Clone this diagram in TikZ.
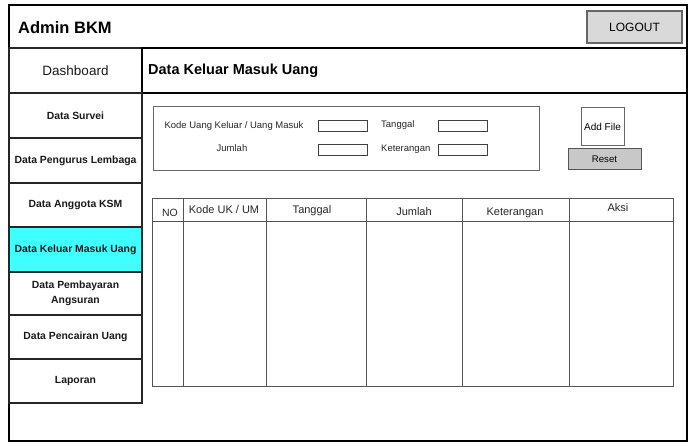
\documentclass[tikz,border=0pt]{standalone}
\usepackage{fontspec}
\setmainfont{Liberation Sans}
\definecolor{cyanfill}{HTML}{40FFFF}
\definecolor{logoutfill}{HTML}{D9D9D9}
\definecolor{resetfill}{HTML}{C8C8C8}
\definecolor{edgegray}{HTML}{666666}
\definecolor{tablegray}{HTML}{555555}
\begin{document}
\begin{tikzpicture}[x=1pt,y=-1pt,
  box/.style={draw, rectangle, inner sep=0pt, outer sep=0pt},
  frame/.style={box, line width=1.8pt, draw=black},
  side/.style={box, line width=1.8pt, draw=black!85, minimum width=133pt, align=center,
     font=\fontsize{10.4}{15}\selectfont\bfseries, text=black!90},
  field/.style={box, draw=black!75, line width=0.8pt, minimum width=49pt, minimum height=11pt},
  sk/.style={inner sep=0pt, font=\fontsize{9.5}{11}\selectfont, text=black!85},
  th/.style={inner sep=0pt, font=\fontsize{11}{13}\selectfont, text=black!85},
  cell/.style={box, draw=tablegray, line width=1pt},
]
\useasboundingbox (0,0) rectangle (695,446);
% outer frame
\node[frame, minimum width=678pt, minimum height=436pt] (outer) at (348,223) {};
% header
\node[frame, minimum width=678pt, minimum height=43pt] (header) at (348,26.5) {};
\node[anchor=west, inner sep=0pt, font=\fontsize{16.5}{18}\selectfont\bfseries] (title) at (18,28) {Admin BKM};
\node[box, fill=logoutfill, draw=edgegray, line width=1.2pt, minimum width=95pt, minimum height=32pt,
  font=\fontsize{12}{14}\selectfont] (logout) at (634.5,27) {LOGOUT};
% second row
\node[side, minimum height=45pt, font=\fontsize{13.5}{15}\selectfont] (dash) at (75.5,70.5) {Dashboard};
\node[frame, line width=1.5pt, minimum width=545pt, minimum height=45pt] (titlebar) at (414.5,70.5) {};
\node[anchor=west, inner sep=0pt, font=\fontsize{14.5}{16}\selectfont\bfseries] (pagetitle) at (148,71) {Data Keluar Masuk Uang};
% sidebar
\node[side, minimum height=45pt] (s1) at (75.5,115.5) {Data Survei};
\node[side, minimum height=45pt] (s2) at (75.5,160.5) {Data Pengurus Lembaga};
\node[side, minimum height=44pt] (s3) at (75.5,205) {Data Anggota KSM};
\node[side, minimum height=45pt, fill=cyanfill] (s4) at (75.5,249.5) {Data Keluar Masuk Uang};
\node[side, minimum height=43pt] (s5) at (75.5,293.5) {Data Pembayaran\\Angsuran};
\node[side, minimum height=44pt] (s6) at (75.5,337) {Data Pencairan Uang};
\node[side, minimum height=44pt] (s7) at (75.5,381) {Laporan};
% form
\node[box, draw=edgegray, line width=1pt, minimum width=386pt, minimum height=64pt] (form) at (346,139) {};
\node[sk] (lkode) at (234,126) {Kode Uang Keluar / Uang Masuk};
\node[sk] (ljumlah) at (232,148) {Jumlah};
\node[sk, anchor=west] (ltanggal) at (381,125) {Tanggal};
\node[sk, anchor=west] (lket) at (381,149) {Keterangan};
\node[field] (f1) at (342.5,125.8) {};
\node[field] (f2) at (342.5,149.5) {};
\node[field] (f3) at (462.5,125.8) {};
\node[field] (f4) at (462.5,149.5) {};
% buttons
\node[box, draw=edgegray, line width=1pt, minimum width=43pt, minimum height=38pt,
  font=\fontsize{10}{12}\selectfont] (addfile) at (602.5,127) {Add File};
\node[box, fill=resetfill, draw=tablegray, line width=1pt, minimum width=73pt, minimum height=21pt,
  font=\fontsize{9.6}{11}\selectfont] (reset) at (604.5,159.5) {Reset};
% table header cells
\node[cell, minimum width=31pt, minimum height=23pt] (h1) at (167.5,210.5) {};
\node[cell, minimum width=83pt, minimum height=23pt] (h2) at (224.5,210.5) {};
\node[cell, minimum width=100pt, minimum height=23pt] (h3) at (316,210.5) {};
\node[cell, minimum width=96pt, minimum height=23pt] (h4) at (414,210.5) {};
\node[cell, minimum width=107pt, minimum height=23pt] (h5) at (515.5,210.5) {};
\node[cell, minimum width=104pt, minimum height=23pt] (h6) at (621,210.5) {};
% table body cells
\node[cell, minimum width=31pt, minimum height=164pt] (b1) at (167.5,304) {};
\node[cell, minimum width=83pt, minimum height=164pt] (b2) at (224.5,304) {};
\node[cell, minimum width=100pt, minimum height=164pt] (b3) at (316,304) {};
\node[cell, minimum width=96pt, minimum height=164pt] (b4) at (414,304) {};
\node[cell, minimum width=107pt, minimum height=164pt] (b5) at (515.5,304) {};
\node[cell, minimum width=104pt, minimum height=164pt] (b6) at (621,304) {};
% header texts
\node[th, font=\fontsize{10.5}{12}\selectfont] (tno) at (170,212.5) {NO};
\node[th] (tkode) at (224,210) {Kode UK / UM};
\node[th] (ttgl) at (312,211) {Tanggal};
\node[th] (tjml) at (414,212) {Jumlah};
\node[th] (tket) at (515,212.5) {Keterangan};
\node[th] (taksi) at (618,208) {Aksi};
\end{tikzpicture}
\end{document}
